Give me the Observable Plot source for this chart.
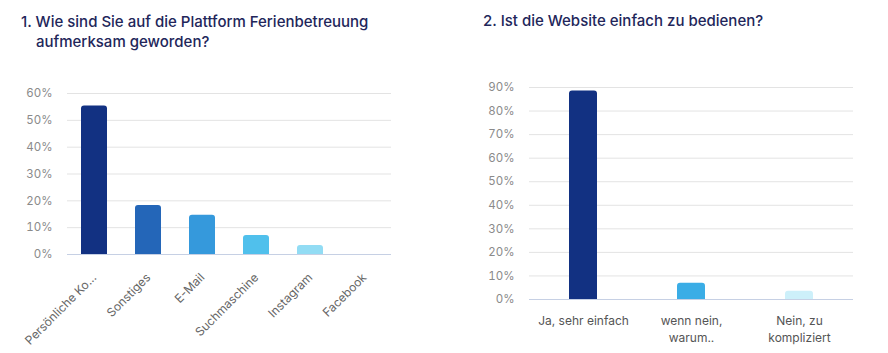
<!DOCTYPE html>
<html><head><meta charset="utf-8">
<script src="https://cdn.jsdelivr.net/npm/d3@7"></script>
<script src="https://cdn.jsdelivr.net/npm/@observablehq/plot@0.6"></script>
<style>
body{margin:0;background:#fff;font-family:Inter,"Open Sans",sans-serif;width:888px;height:353px;position:relative;overflow:hidden}
.t{position:absolute;color:#22265a;font-size:15px;font-weight:500;line-height:20px;font-family:Inter,sans-serif}
.p{position:absolute}
</style></head><body>
<div class="t" style="left:21px;top:12px;padding-left:15px;text-indent:-15px;width:420px">1. Wie sind Sie auf die Plattform Ferienbetreuung aufmerksam geworden?</div>
<div class="t" style="left:483px;top:11px">2. Ist die Website einfach zu bedienen?</div>
<div class="p" id="c1" style="left:0;top:80px"></div>
<div class="p" id="c2" style="left:470px;top:70px"></div>
<script>
const cats1 = ["Persönliche Ko...", "Sonstiges", "E-Mail", "Suchmaschine", "Instagram", "Facebook"];
const vals1 = [0.553, 0.183, 0.146, 0.071, 0.034, 0];
const cols1 = ["#123182", "#2466b8", "#3599dc", "#50c0ec", "#92dcf4", "#cdf0fa"];

const cats2 = ["Ja, sehr einfach", "wenn nein, warum..", "Nein, zu kompliziert"];
const labels2 = ["Ja, sehr einfach", "wenn nein,\nwarum..", "Nein, zu\nkompliziert"];
const vals2 = [0.885, 0.069, 0.035];
const cols2 = ["#123182", "#3aade6", "#cdf0fa"];

const data1 = cats1.map((c, i) => ({c, v: vals1[i], col: cols1[i]}));
const data2 = cats2.map((c, i) => ({c, v: vals2[i], col: cols2[i]}));

const p1 = Plot.plot({
  width: 420, height: 273,
  marginTop: 13, marginBottom: 99, marginLeft: 67, marginRight: 29,
  style: {fontFamily: "Inter, sans-serif", fontSize: "12px", color: "#666"},
  x: {domain: cats1, paddingInner: 0.52, paddingOuter: 0.26, label: null},
  y: {domain: [0, 0.6], label: null},
  marks: [
    Plot.gridY([0.1,0.2,0.3,0.4,0.5,0.6], {stroke: "#e3e3e3", strokeOpacity: 1}),
    Plot.axisY([0,0.1,0.2,0.3,0.4,0.5,0.6], {tickSize: 0, tickPadding: 15, tickFormat: d3.format(".0%"), fill: "#8a8a8a", fontSize: 11.5, label: null}),
    Plot.barY(data1, {x: "c", y: "v", fill: "col", ry1: 3}),
    Plot.ruleY([0], {stroke: "#c6d0e4", strokeWidth: 1.2}),
    Plot.axisX({tickSize: 0, tickPadding: 21, tickRotate: -45, fill: "#666", fontSize: 12, label: null})
  ]
});
document.getElementById("c1").appendChild(p1);

const p2 = Plot.plot({
  width: 418, height: 283,
  marginTop: 17, marginBottom: 54, marginLeft: 59, marginRight: 35,
  style: {fontFamily: "Inter, sans-serif", fontSize: "12px", color: "#666"},
  x: {domain: cats2, paddingInner: 0.74, paddingOuter: 0.37, label: null},
  y: {domain: [0, 0.9], label: null},
  marks: [
    Plot.gridY([0.1,0.2,0.3,0.4,0.5,0.6,0.7,0.8,0.9], {stroke: "#e3e3e3", strokeOpacity: 1}),
    Plot.axisY([0,0.1,0.2,0.3,0.4,0.5,0.6,0.7,0.8,0.9], {tickSize: 0, tickPadding: 15, tickFormat: d3.format(".0%"), fill: "#8a8a8a", fontSize: 11.5, label: null}),
    Plot.barY(data2, {x: "c", y: "v", fill: "col", ry1: 3}),
    Plot.ruleY([0], {stroke: "#c6d0e4", strokeWidth: 1.2}),
    Plot.axisX({tickSize: 0, tickPadding: 14, tickFormat: (d, i) => labels2[cats2.indexOf(d)], fill: "#555", fontSize: 12, lineHeight: 1.4, label: null})
  ]
});
document.getElementById("c2").appendChild(p2);
</script>
</body></html>
